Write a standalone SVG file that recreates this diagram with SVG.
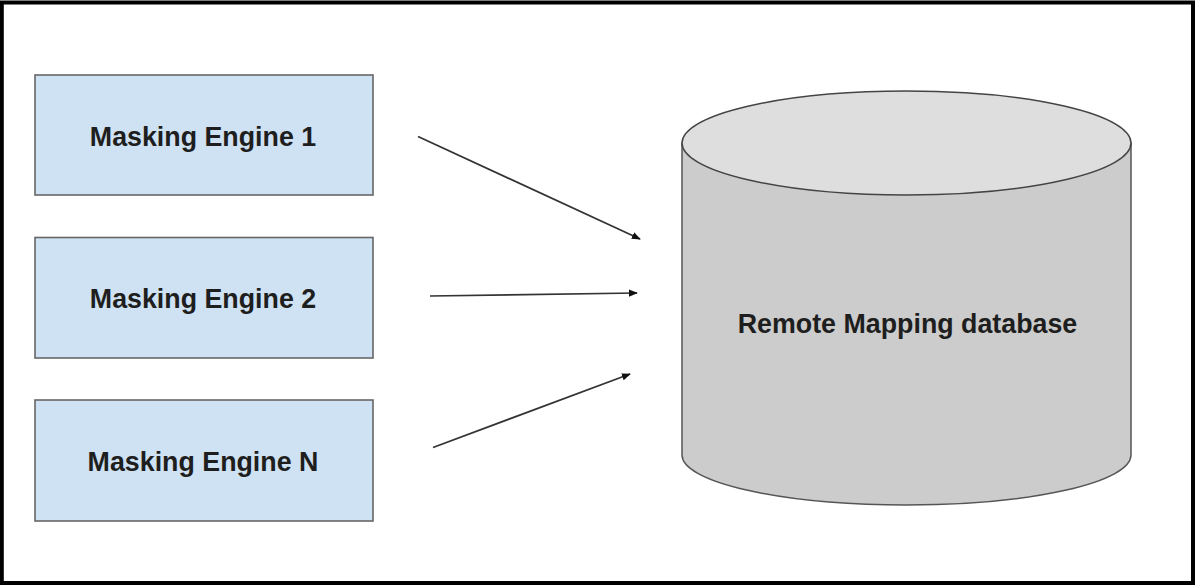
<svg xmlns="http://www.w3.org/2000/svg" width="1195" height="585" viewBox="0 0 1195 585">
<style>
.box{fill:#cfe2f3;stroke:#666;stroke-width:1.6}
.lbl{font-family:"Liberation Sans",Arial,sans-serif;font-weight:bold;font-size:26.8px;fill:#1e1e1e;text-anchor:middle}
.conn{stroke:#333;stroke-width:1.7;fill:none;marker-end:url(#ah)}
</style>
<defs>
<marker id="ah" viewBox="0 0 10 10" refX="9" refY="5" markerWidth="9" markerHeight="9" markerUnits="userSpaceOnUse" orient="auto">
<path d="M0,1 L10,5 L0,9 Z" fill="#111"/>
</marker>
</defs>
<rect x="0" y="0" width="1195" height="585" fill="#fff"/>
<rect x="1.8" y="2.5" width="1191.2" height="580.5" fill="none" stroke="#000" stroke-width="4"/>
<g id="engine1">
<rect class="box" x="35" y="75" width="338" height="120"/>
<text class="lbl" x="203" y="145.5">Masking Engine 1</text>
</g>
<g id="engine2">
<rect class="box" x="35" y="237.5" width="338" height="120.5"/>
<text class="lbl" x="203" y="308">Masking Engine 2</text>
</g>
<g id="engineN">
<rect class="box" x="35" y="400" width="338" height="121"/>
<text class="lbl" x="203" y="471">Masking Engine N</text>
</g>
<g id="database">
<path d="M682,143 L682,455 A224.5,50 0 0 0 1131,455 L1131,143 Z" fill="#cccccc" stroke="#555" stroke-width="1.5"/>
<ellipse cx="906.5" cy="143" rx="224.5" ry="52" fill="#dedede" stroke="#444" stroke-width="1.5"/>
<text class="lbl" x="907.5" y="333">Remote Mapping database</text>
</g>
<g id="connectors">
<line class="conn" x1="418" y1="136.5" x2="640" y2="239"/>
<line class="conn" x1="430" y1="296" x2="637" y2="293"/>
<line class="conn" x1="433" y1="447.5" x2="630" y2="374"/>
</g>
</svg>
